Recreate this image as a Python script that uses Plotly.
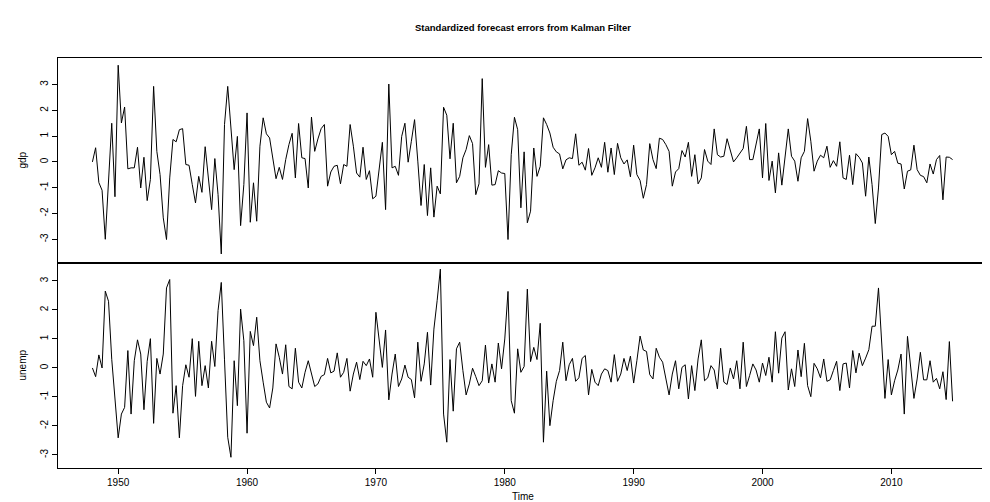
import plotly.graph_objects as go
from plotly.subplots import make_subplots

# ---- data ----
start_year = 1948
frequency = 4

gdp = [0.0, 0.55, -0.8, -1.1, -3.0, -0.6, 1.5, -1.35,
       3.75, 1.51, 2.13, -0.27, -0.23, -0.23, 0.57, -1.01, 0.18, -1.50, -0.68, 2.93, 0.41, -0.49, -2.17, -3.01,
       -0.62, 0.87, 0.78, 1.25, 1.29, -0.10, -0.13, -0.88, -1.59, -0.56, -1.18, 0.59, -0.62, -1.85, 0.13, -1.27,
       -3.57, 1.45, 2.93, 1.45, -0.30, 0.99, -2.47, -0.88, 1.90, -2.34, -0.81, -2.30,
       0.61, 1.71, 1.09, 0.93, 0.16, -0.65, -0.21, -0.68, 0.09, 0.67, 1.11, -0.62, 1.49, 0.16, 0.13, -1.01,
       1.74, 0.41, 0.89, 1.29, 1.45, -0.94, -0.39, -0.17, -0.13, -0.85, -0.10, -0.17, 1.45, 0.61, -0.43, -0.59,
       0.57, -0.68, -0.34, -1.43, -1.33, -0.23, 0.76, -1.85, 3.02, -0.23,
       -0.17, -0.52, 0.99, 1.50, -0.01, 0.80, 1.64, 0.03, -1.69, -0.10, -2.08, -0.23, -2.14, -0.94, -1.24, 2.12,
       1.81, 0.12, 1.50, -0.81, -0.56, 0.16, 0.48, 1.02, 0.71, -1.27, -0.85, 3.23, -0.21, 0.67, -0.90, -0.88,
       -0.34, -0.43, -0.45, -3.01, 0.28, 1.73, 1.25, -1.78, 0.39, -2.36,
       -1.91, 0.54, -0.56, -0.17, 1.71, 1.45, 1.12, 0.57, 0.39, 0.31, -0.27, 0.08, 0.16, 0.13, 1.09, -0.13,
       -0.01, -0.32, 0.52, -0.52, -0.23, 0.16, -0.21, 0.76, -0.40, 0.54, -0.49, 0.72, 0.16, -0.08, 0.08, -0.58,
       0.65, -0.49, -0.72, -1.41, -0.88, 0.71, 0.09, -0.26, 0.92,
       0.87, 0.67, 0.41, -0.94, -0.39, -0.26, 0.44, 0.19, 0.76, -0.56, 0.28, -0.85, -0.62, 0.48, 0.03, -0.10,
       1.28, 0.28, 0.19, 0.22, 0.90, 0.41, 0.00, 0.16, 0.32, 0.52, 1.38, 0.09, 0.09, 0.74, 1.28, -0.62,
       1.49, -0.72, 0.03, -1.20, 0.35, -0.90, 0.28, 1.28, 0.22, 0.03,
       -0.75, 0.16, 0.41, 1.68, 0.80, -0.36, 0.03, 0.26, 0.16, 0.61, -0.21, 0.05, -0.17, 0.78, -0.62, -0.68,
       0.26, -0.88, 0.32, 0.18, -0.04, -1.33, 0.19, -0.88, -2.39, -1.01, 1.06, 1.12, 0.99, 0.28, 0.41, -0.05,
       -0.08, -1.05, -0.36, -0.31, 0.65, -0.30, -0.52, -0.57, -0.81, -0.08, -0.47, 0.09, 0.25, -1.47, 0.19,
       0.18, 0.09]

unemp = [0.0, -0.3, 0.45, 0.0, 2.65, 2.3, 0.3, -1.2,
         -2.41, -1.59, -1.36, 0.60, -1.59, 0.25, 0.97, 0.48, -1.44, 0.23, 1.01, -1.91, 0.33, -0.21, 0.48, 2.76,
         3.05, -1.56, -0.61, -2.41, -0.61, 0.11, -0.32, 1.01, -0.98, 0.92, -0.61, 0.08, -0.69, 0.92, 0.05, 1.98,
         2.95, 0.28, -2.39, -3.08, 0.25, -1.30, 2.03, 0.94, -2.25, 1.26, 0.77, 1.75,
         0.25, -0.49, -1.18, -1.38, -0.69, 0.83, 0.37, -0.21, 0.80, -0.64, -0.72, 0.68, -0.49, -0.69, -0.15, 0.25,
         -0.21, -0.64, -0.55, -0.29, -0.23, 0.33, -0.17, -0.11, 0.52, -0.32, -0.15, 0.33, -0.80, -0.21, 0.20, -0.40,
         0.23, 0.08, 0.31, -0.32, 1.92, 0.94, 0.02, 1.31, -1.10,
         -0.21, 0.48, -0.64, -0.38, 0.10, -0.32, -0.40, -1.03, 0.89, -0.46, 0.14, 1.23, -0.59, 1.34, 2.32, 3.41,
         -1.59, -2.56, 0.29, -1.49, 0.66, 0.89, -0.09, -0.93, -0.55, -0.01, -0.30, -0.61, -0.44, 0.79, -0.52, 0.14,
         -0.49, 0.86, -0.03, 1.00, 2.64, -1.13, -1.56, 0.66, -0.15, 0.05,
         2.72, 0.22, 0.71, 0.29, 1.54, -2.56, -0.11, -1.99, -1.13, -0.46, -0.09, 0.89, -0.44, 0.11, 0.33, -0.46,
         -0.34, 0.33, 0.43, -0.93, -0.05, -0.49, -0.61, -0.21, -0.03, -0.09, -0.49, 0.46, -0.46, -0.21, 0.33, -0.09,
         0.41, -0.52, 0.25, 1.10, 0.62, 0.57, -0.23, -0.38, 0.68, 0.37,
         0.20, -0.38, -0.93, -0.21, 0.25, -0.72, 0.02, 0.11, -1.07, 0.08, -0.78, 0.31, 0.97, -0.44, -0.34, 0.08,
         -0.07, -0.72, 0.68, -0.49, -0.57, 0.00, -0.38, 0.25, -0.72, 0.89, -0.64, -0.26, 0.14, -0.07, -0.49, 0.17,
         -0.26, 0.37, -0.49, 1.25, -0.18, 1.03, 1.25, -0.76, -0.03, -0.64,
         0.62, -0.30, 0.85, -0.61, -0.99, 0.16, -0.03, -0.34, 0.31, -0.46, -0.41, -0.09, 0.23, -0.78, 0.14, 0.17,
         -0.69, 0.60, -0.17, 0.51, 0.08, 0.34, 0.63, 1.44, 1.44, 2.76, 0.89, -1.05, 0.29, -0.93, -0.44, -0.07,
         0.48, -1.59, 1.09, -0.01, -1.05, -0.38, 0.54, -0.41, -0.41, 0.25, -0.49, -0.36, -0.72, -0.13, -1.09, 0.91,
         -1.15]

x_tick_years = [1950, 1960, 1970, 1980, 1990, 2000, 2010]
y_tick_values = [-3, -2, -1, 0, 1, 2, 3]
series_names = ["gdp", "unemp"]
title_text = "Standardized forecast errors from Kalman Filter"

time = [start_year + i / frequency for i in range(len(gdp))]

# ---- figure ----
W, H = 990, 502
ML, MR, MT, MB = 50, 11, 50, 42
PW, PH = W - ML - MR, H - MT - MB
font_family = "Liberation Sans, Arial, Helvetica, sans-serif"

fig = make_subplots(rows=2, cols=1, shared_xaxes=True, vertical_spacing=0)
fig.add_trace(go.Scatter(x=time, y=gdp, mode="lines", line=dict(color="black", width=1),
                         showlegend=False, hoverinfo="skip"), row=1, col=1)
fig.add_trace(go.Scatter(x=time, y=unemp, mode="lines", line=dict(color="black", width=1),
                         showlegend=False, hoverinfo="skip"), row=2, col=1)

span = (time[-1] - time[0])
xr = [time[0] - 0.04 * span, time[-1] + 0.04 * span]

split = 0.5
axis_common = dict(showgrid=False, zeroline=False, showline=True, mirror=True,
                   linecolor="black", linewidth=1, automargin=False)
ytick_common = dict(tickvals=y_tick_values, ticktext=[str(v) for v in y_tick_values],
                    tickangle=-90, ticks="outside", ticklen=5, tickcolor="black",
                    tickfont=dict(size=10))

fig.update_layout(
    width=W, height=H,
    margin=dict(l=ML, r=MR, t=MT, b=MB, autoexpand=False),
    paper_bgcolor="white", plot_bgcolor="white",
    font=dict(family=font_family, size=10, color="black"),
    xaxis=dict(range=xr, showticklabels=False, ticks="", **axis_common),
    xaxis2=dict(range=xr, tickvals=x_tick_years, ticktext=[str(v) for v in x_tick_years],
                ticks="outside", ticklen=5, tickcolor="black", tickfont=dict(size=10),
                **axis_common),
    yaxis=dict(domain=[split, 1], range=[-3.92, 4.03], **ytick_common, **axis_common),
    yaxis2=dict(domain=[0, split], range=[-3.45, 3.62], **ytick_common, **axis_common),
)

def px_x(px):
    return (px - ML) / PW

def px_y(py):
    return (H - MB - py) / PH

fig.add_annotation(text="<b>" + title_text + "</b>", xref="paper", yref="paper",
                   x=0.5, y=px_y(20), showarrow=False, font=dict(size=9.5),
                   xanchor="center", yanchor="middle")
fig.add_annotation(text=series_names[0], xref="paper", yref="paper",
                   x=px_x(14), y=(split + 1) / 2, textangle=-90,
                   showarrow=False, font=dict(size=10), xanchor="center", yanchor="middle")
fig.add_annotation(text=series_names[1], xref="paper", yref="paper",
                   x=px_x(14), y=split / 2, textangle=-90,
                   showarrow=False, font=dict(size=10), xanchor="center", yanchor="middle")
fig.add_annotation(text="Time", xref="paper", yref="paper",
                   x=0.5, y=px_y(488), showarrow=False,
                   font=dict(size=10), xanchor="center", yanchor="middle")

fig.write_html("out.html")
